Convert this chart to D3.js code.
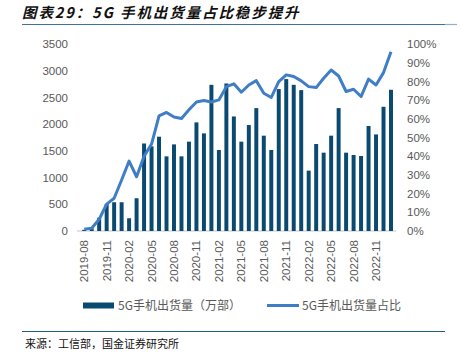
<!DOCTYPE html>
<html><head><meta charset="utf-8">
<script src="https://cdn.jsdelivr.net/npm/d3@7"></script>
<style>body{margin:0;background:#fff}svg{display:block}</style>
</head><body>
<div id="chart"></div>
<script>
const months = ["2019-08","2019-09","2019-10","2019-11","2019-12","2020-01","2020-02","2020-03","2020-04","2020-05","2020-06","2020-07","2020-08","2020-09","2020-10","2020-11","2020-12","2021-01","2021-02","2021-03","2021-04","2021-05","2021-06","2021-07","2021-08","2021-09","2021-10","2021-11","2021-12","2022-01","2022-02","2022-03","2022-04","2022-05","2022-06","2022-07","2022-08","2022-09","2022-10","2022-11","2022-12","2023-01"];
const shipments = [22,50,249,507,538,538,238,613,1638,1584,1765,1397,1621,1397,1672,2033,1827,2736,1516,2761,2144,1672,1983,2300,1784,1516,2656,2843,2736,2637,1130,1628,1466,1784,2300,1466,1423,1404,1965,1808,2325,2643];
const share = [0.01,0.015,0.063,0.144,0.175,0.273,0.374,0.29,0.40,0.465,0.616,0.634,0.61,0.602,0.648,0.69,0.698,0.69,0.701,0.772,0.787,0.742,0.781,0.804,0.737,0.714,0.799,0.835,0.826,0.803,0.772,0.767,0.817,0.861,0.829,0.746,0.758,0.719,0.812,0.781,0.847,0.959];
const leftTicks = [0,500,1000,1500,2000,2500,3000,3500];
const rightTicks = [0,0.1,0.2,0.3,0.4,0.5,0.6,0.7,0.8,0.9,1.0];
const labelMonths = months.filter((m,i)=>i%3===0 && i<=39);
const titleText = "图表29：5G 手机出货量占比稳步提升";
const legendBar = "5G手机出货量（万部）";
const legendLine = "5G手机出货量占比";
const sourceText = "来源：工信部，国金证券研究所";

const W=461,H=355;
const svg=d3.select("#chart").append("svg").attr("width",W).attr("height",H);
const font="'Liberation Sans', Arial, sans-serif";
const grey="#595959";

const x=d3.scaleBand().domain(months).range([78.7,396.5]).padding(0.47);
const yL=d3.scaleLinear().domain([0,3500]).range([231,44]);
const yR=d3.scaleLinear().domain([0,1]).range([231,44]);

// title
svg.append("text").attr("x",22).attr("y",18).text(titleText)
  .attr("font-family","'Noto Sans CJK SC', sans-serif").attr("font-size",14.5)
  .attr("font-weight","bold").attr("font-style","italic").attr("fill","#111")
  .attr("letter-spacing",1.9);
svg.append("line").attr("x1",22).attr("x2",445).attr("y1",24.5).attr("y2",24.5).attr("stroke","#3f7296").attr("stroke-width",1.2);
svg.append("line").attr("x1",445).attr("x2",457).attr("y1",24.5).attr("y2",24.5).attr("stroke","#8fb0c8").attr("stroke-width",1.2);

// baseline
svg.append("line").attr("x1",77).attr("x2",396).attr("y1",231).attr("y2",231).attr("stroke","#d9d9d9").attr("stroke-width",1.5);

// bars
svg.append("g").selectAll("rect").data(months).join("rect")
  .attr("x",d=>x(d)).attr("width",x.bandwidth())
  .attr("y",(d,i)=>yL(shipments[i])).attr("height",(d,i)=>yL(0)-yL(shipments[i]))
  .attr("fill","#0b4a70");

// line
const line=d3.line().x((d,i)=>x(months[i])+x.bandwidth()/2).y(d=>yR(d));
svg.append("path").datum(share).attr("d",line).attr("fill","none")
  .attr("stroke","#3f7ec6").attr("stroke-width",3).attr("stroke-linejoin","round");

// left axis
const gL=svg.append("g").attr("transform","translate(68,0)")
  .call(d3.axisLeft(yL).tickValues(leftTicks).tickSize(0).tickPadding(0).tickFormat(d3.format("d")));
gL.select(".domain").remove();
gL.selectAll("text").attr("font-family",font).attr("font-size",11.5).attr("fill",grey);

// right axis
const gR=svg.append("g").attr("transform","translate(407,0)")
  .call(d3.axisRight(yR).tickValues(rightTicks).tickSize(0).tickPadding(0).tickFormat(d3.format(".0%")));
gR.select(".domain").remove();
gR.selectAll("text").attr("font-family",font).attr("font-size",11.5).attr("fill",grey);

// x axis
const gX=svg.append("g").attr("transform","translate(0,231)")
  .call(d3.axisBottom(x).tickValues(labelMonths).tickSize(0).tickPadding(0));
gX.select(".domain").remove();
gX.selectAll("text").attr("font-family",font).attr("font-size",11.5).attr("fill",grey)
  .attr("transform","rotate(-90)").attr("text-anchor","end").attr("dx","-9").attr("dy","0.35em").attr("y",0);

// legend
svg.append("rect").attr("x",83).attr("y",302.5).attr("width",31).attr("height",6).attr("fill","#0b4a70");
svg.append("text").attr("x",118).attr("y",310).text(legendBar).attr("font-family","'Noto Sans CJK SC', sans-serif").attr("font-size",12).attr("fill",grey);
svg.append("line").attr("x1",267).attr("x2",299).attr("y1",305.5).attr("y2",305.5).attr("stroke","#3f7ec6").attr("stroke-width",3);
svg.append("text").attr("x",302).attr("y",310).text(legendLine).attr("font-family","'Noto Sans CJK SC', sans-serif").attr("font-size",12).attr("fill",grey);

// bottom rule and source
svg.append("line").attr("x1",22).attr("x2",445).attr("y1",331.5).attr("y2",331.5).attr("stroke","#1f5f82").attr("stroke-width",1.2);
svg.append("text").attr("x",25).attr("y",348).text(sourceText).attr("font-family","'Noto Sans CJK SC', sans-serif").attr("font-size",11).attr("fill","#111");
</script>
</body></html>
